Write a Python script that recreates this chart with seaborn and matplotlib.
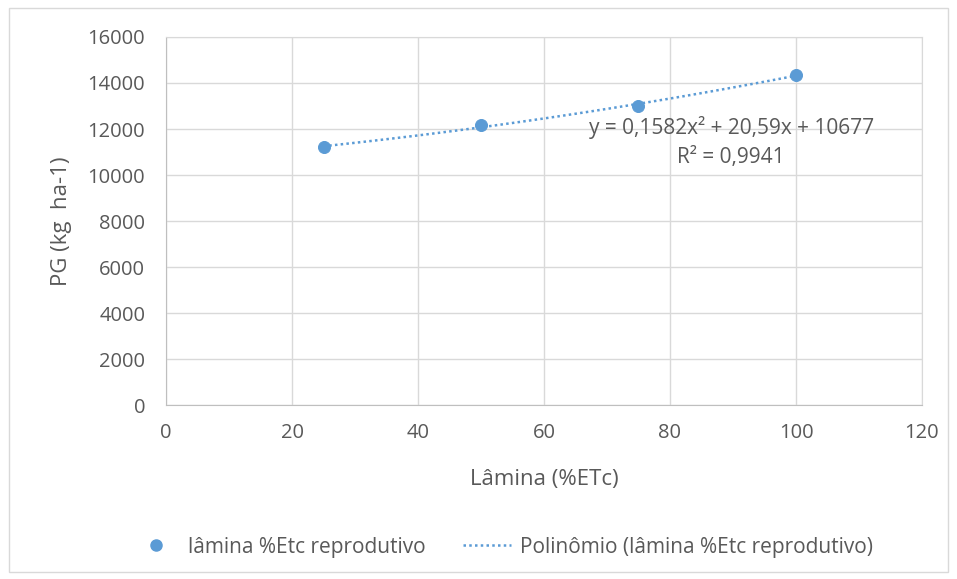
import numpy as np
import pandas as pd
import matplotlib
matplotlib.use('Agg')
import matplotlib.pyplot as plt
import seaborn as sns
from matplotlib.lines import Line2D
from matplotlib.patches import Rectangle

# data
lamina = [25, 50, 75, 100]
pg = [11220, 12170, 13000, 14350]
eq_text = 'y = 0,1582x² + 20,59x + 10677'
r2_text = 'R² = 0,9941'

sns.set_style('white')
plt.rcParams['font.family'] = ['Open Sans', 'DejaVu Sans']

data = pd.DataFrame({'lamina': lamina, 'pg': pg})
blue = '#5b9bd5'
grey = '#595959'

fig = plt.figure(figsize=(9.57, 5.79), dpi=100)
ax = fig.add_axes([0.1735, 0.3005, 0.7899, 0.6356])

# polynomial trend line (2nd order)
coef = np.polyfit(data['lamina'], data['pg'], 2)
xs = np.linspace(25, 100, 100)
trend = pd.DataFrame({'lamina': xs, 'pg': np.polyval(coef, xs)})
sns.lineplot(x='lamina', y='pg', data=trend, ax=ax, color=blue, lw=1.8,
             linestyle=(0, (1, 1.3)), zorder=3)
sns.scatterplot(x='lamina', y='pg', data=data, ax=ax, color=blue, s=75,
                edgecolor=blue, zorder=4)

ax.set_xlim(0, 120)
ax.set_ylim(0, 16000)
ax.set_xticks(range(0, 121, 20))
ax.set_yticks(range(0, 16001, 2000))
ax.grid(True, color='#d9d9d9', lw=1)
for s in ax.spines.values():
    s.set_color('#d9d9d9')
ax.spines['left'].set_color('#bfbfbf')
ax.spines['bottom'].set_color('#bfbfbf')
ax.tick_params(colors=grey, labelsize=14.5, length=0)
ax.tick_params(axis='y', pad=15)
ax.tick_params(axis='x', pad=13)
ax.set_xlabel('Lâmina (%ETc)', color=grey, fontsize=16, labelpad=19)
ax.set_ylabel('PG (kg  ha-1)', color=grey, fontsize=16, labelpad=11)

ax.text(89.7, 12050, eq_text, ha='center', va='center', color=grey, fontsize=15)
ax.text(89.7, 10780, r2_text, ha='center', va='center', color=grey, fontsize=15)

handles = [
    Line2D([], [], marker='o', color=blue, linestyle='none', markersize=8),
    Line2D([], [], color=blue, lw=1.8, linestyle=(0, (1, 1.3))),
]
labels = ['lâmina %Etc reprodutivo', 'Polinômio (lâmina %Etc reprodutivo)']
fig.legend(handles, labels, loc='center', bbox_to_anchor=(0.525, 0.055), ncol=2,
           frameon=False, fontsize=15, labelcolor=grey, columnspacing=1.8,
           handlelength=2.3, handletextpad=0.4)

fig.patches.append(Rectangle((0.009, 0.012), 0.982, 0.975, transform=fig.transFigure,
                             fill=False, edgecolor='#d9d9d9', lw=1))

fig.savefig('out.png', dpi=100)
